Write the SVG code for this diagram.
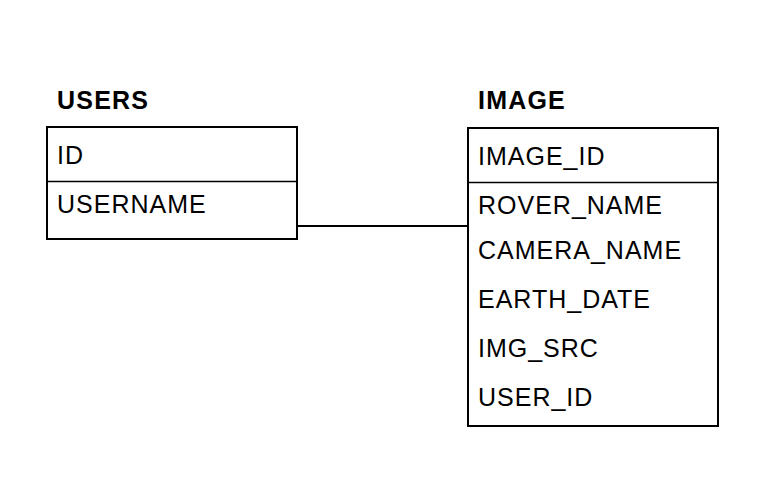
<svg xmlns="http://www.w3.org/2000/svg" width="772" height="494" viewBox="0 0 772 494">
<style>
.box{fill:#fff;stroke:#000;stroke-width:2}
.div{stroke:#000;stroke-width:1.3}
.t{font-family:"Liberation Sans",Arial,sans-serif;font-size:25px;letter-spacing:1px;fill:#000}
.h{font-family:"Liberation Sans",Arial,sans-serif;font-size:25px;letter-spacing:1.2px;font-weight:bold;fill:#000}
.c{stroke:#000;stroke-width:2;fill:none}
</style>
<rect width="772" height="494" fill="#fff"/>
<g id="connectors">
<line class="c" x1="297" y1="226" x2="468" y2="226"/>
</g>
<g id="users">
<text class="h" x="57" y="109">USERS</text>
<rect class="box" x="47" y="127" width="250" height="112"/>
<line class="div" x1="47" y1="181.5" x2="297" y2="181.5"/>
<text class="t" x="57" y="164">ID</text>
<text class="t" x="57" y="213">USERNAME</text>
</g>
<g id="image">
<text class="h" x="478" y="109">IMAGE</text>
<rect class="box" x="468" y="128" width="250" height="298"/>
<line class="div" x1="468" y1="182.5" x2="718" y2="182.5"/>
<text class="t" x="478" y="165">IMAGE_ID</text>
<text class="t" x="478" y="214">ROVER_NAME</text>
<text class="t" x="478" y="259">CAMERA_NAME</text>
<text class="t" x="478" y="308">EARTH_DATE</text>
<text class="t" x="478" y="357">IMG_SRC</text>
<text class="t" x="478" y="406">USER_ID</text>
</g>
</svg>
